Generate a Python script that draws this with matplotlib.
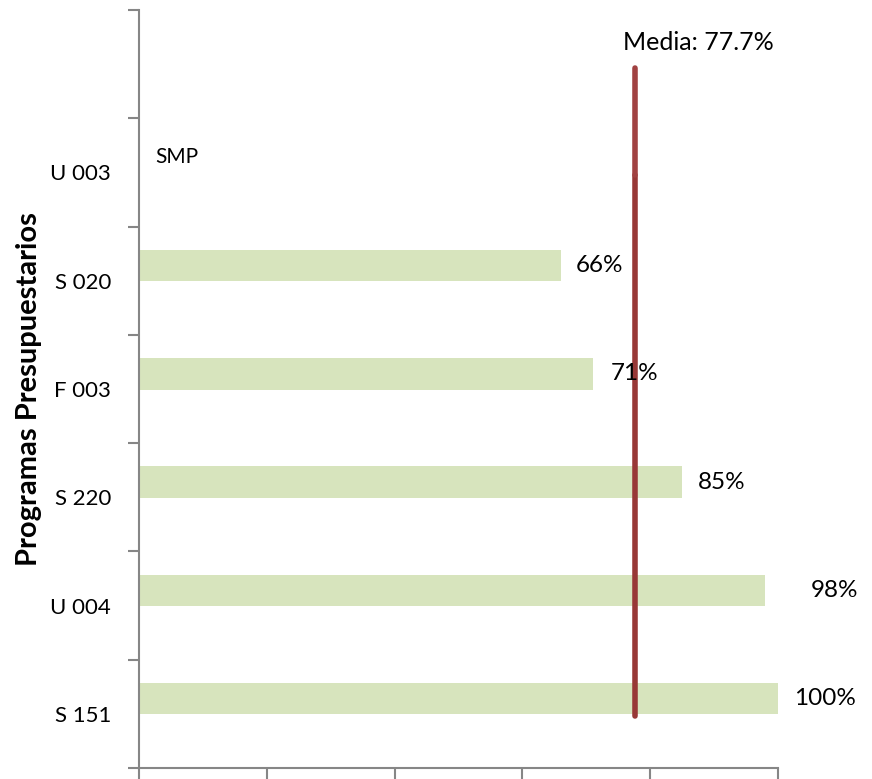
import numpy as np
import matplotlib.pyplot as plt

# Datos del grafico
programas = ["S 151", "U 004", "S 220", "F 003", "S 020", "U 003", ""]
valores = [100, 98, 85, 71, 66, None, None]
etiquetas = ["100%", "98%", "85%", "71%", "66%", "SMP", ""]
media = 77.7

plt.rcParams['font.family'] = ['Lato', 'DejaVu Sans']

fig = plt.figure(figsize=(8.72, 7.79), dpi=100)
ax = fig.add_axes([0.1594, 0.0141, 0.7326, 0.9731])

pos = np.arange(len(programas))
desfase = 0.14  # las barras quedan un poco arriba del centro de la categoria
for i, v in enumerate(valores):
    if v is not None:
        ax.barh(pos[i] + desfase, v, height=0.29, color='#d7e4bd')

# etiquetas de datos
offsets = [2.6, 7.2, 2.5, 2.8, 2.4, 0, 0]
for i, (v, t) in enumerate(zip(valores, etiquetas)):
    if t == "":
        continue
    if v is None:
        ax.text(2.5, pos[i] + desfase, t, va='center', ha='left', fontsize=15)
    else:
        ax.text(v + offsets[i], pos[i] + desfase, t, va='center', ha='left', fontsize=17.5)

# linea de la media
ax.plot([media, media], [-0.02, 4.98], color='#983837', lw=4, solid_capstyle='round')
ax.plot([media, media], [4.98, 5.96], color='#a14242', lw=4, solid_capstyle='round')
ax.text(media - 1.9, 6.2, "Media: 77.7%", ha='left', va='center', fontsize=18)

ax.set_xlim(0, 100)
ax.set_ylim(-0.5, 6.5)
ax.set_xticks([0, 20, 40, 60, 80, 100])
ax.set_xticklabels([])
ax.set_yticks(pos)
ax.set_yticklabels(programas, fontsize=16)
ax.set_yticks(np.arange(-0.5, 6.6, 1), minor=True)
ax.tick_params(axis='y', which='major', length=0, pad=20)
ax.tick_params(axis='y', which='minor', length=8, width=1.5, color='#868686', direction='out')
ax.tick_params(axis='x', length=8, width=1.5, color='#868686', direction='out')

for s in ['top', 'right']:
    ax.spines[s].set_visible(False)
for s in ['left', 'bottom']:
    ax.spines[s].set_color('#868686')
    ax.spines[s].set_linewidth(1.5)

ax.set_ylabel("Programas Presupuestarios", fontsize=21, fontweight='bold', labelpad=6)

fig.savefig("out.png", dpi=100)
